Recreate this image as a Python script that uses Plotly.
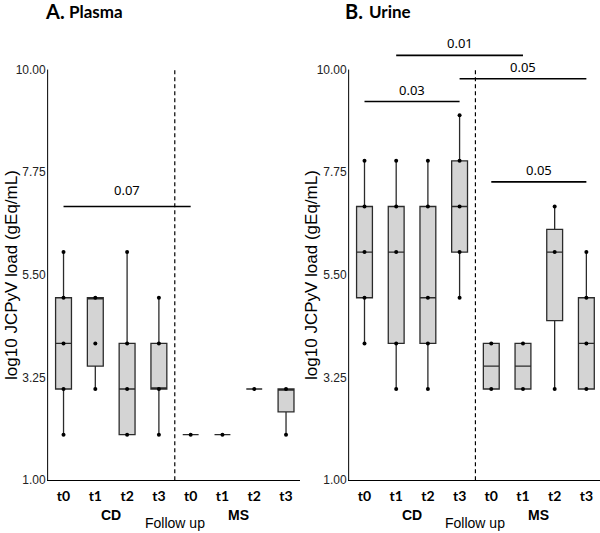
import plotly.graph_objects as go

# ---------------- data ----------------
x_labels = ["t0", "t1", "t2", "t3", "t0", "t1", "t2", "t3"]
x_pos = [0, 1, 2, 3, 4, 5, 6, 7]

# Plasma (panel A): min, q1, median, q3, max
plasma_min = [2, 3, 2, 2, 2, 2, 3, 2]
plasma_q1 = [3, 3.5, 2, 3, 2, 2, 3, 2.5]
plasma_med = [4, 5, 3, 3, 2, 2, 3, 3]
plasma_q3 = [5, 5, 4, 4, 2, 2, 3, 3]
plasma_max = [6, 5, 6, 5, 2, 2, 3, 3]
plasma_points = [[2, 3, 4, 5, 6], [3, 4, 5], [2, 3, 4, 6], [2, 3, 4, 5],
                 [2], [2], [3], [2, 3]]

# Urine (panel B)
urine_min = [4, 3, 3, 5, 3, 3, 3, 3]
urine_q1 = [5, 4, 4, 6, 3, 3, 4.5, 3]
urine_med = [6, 6, 5, 7, 3.5, 3.5, 6, 4]
urine_q3 = [7, 7, 7, 8, 4, 4, 6.5, 5]
urine_max = [8, 8, 8, 9, 4, 4, 7, 6]
urine_points = [[4, 5, 6, 7, 8], [3, 4, 6, 7, 8], [3, 4, 5, 7, 8], [5, 6, 7, 8, 9],
                [3, 4], [3, 4], [3, 6, 7], [3, 4, 5, 6]]

# significance bars: (x start, x end, y level, label)
plasma_sig = [(0, 4, 7.0, "0.07")]
urine_sig = [(1, 5, 10.31, "0.01"), (3, 7, 9.80, "0.05"),
             (0, 3, 9.30, "0.03"), (4, 7, 7.54, "0.05")]

y_ticks = [1, 3.25, 5.5, 7.75, 10]
y_top = 10.66
x_range = [-0.53, 7.43]

# ---------------- figure ----------------
fig = go.Figure()
BOX_FILL = "#d4d4d4"
BOX_LINE = "#2b2b2b"

panels = [
    ("x", "y", plasma_min, plasma_q1, plasma_med, plasma_q3, plasma_max, plasma_points),
    ("x2", "y2", urine_min, urine_q1, urine_med, urine_q3, urine_max, urine_points),
]
for xa, ya, mn, q1, md, q3, mx, pts in panels:
    fig.add_trace(go.Box(
        x=x_pos, q1=q1, median=md, q3=q3, lowerfence=mn, upperfence=mx,
        xaxis=xa, yaxis=ya, width=0.5, whiskerwidth=0,
        fillcolor=BOX_FILL, line=dict(color=BOX_LINE, width=1.3),
        boxpoints=False, showlegend=False, hoverinfo="skip"))
    px, py = [], []
    for xi, plist in zip(x_pos, pts):
        for v in plist:
            px.append(xi)
            py.append(v)
    fig.add_trace(go.Scatter(
        x=px, y=py, mode="markers", xaxis=xa, yaxis=ya,
        marker=dict(color="black", size=4), showlegend=False, hoverinfo="skip"))

axis_common_x = dict(range=x_range, tickmode="array", tickvals=x_pos, ticktext=x_labels,
                     showline=True, linecolor="black", linewidth=1, ticks="",
                     showgrid=False, zeroline=False, ticklabelstandoff=3,
                     tickfont=dict(family="Lato", size=14, color="black", weight="bold"))
axis_common_y = dict(range=[1, y_top], tickmode="array", tickvals=y_ticks,
                     ticktext=["%.2f" % v for v in y_ticks], showline=False, ticks="",
                     showgrid=False, zeroline=False,
                     tickfont=dict(family="Liberation Sans", size=12, color="#222"))

fig.update_layout(
    width=600, height=533,
    margin=dict(l=0, r=0, t=0, b=0),
    paper_bgcolor="white", plot_bgcolor="white",
    xaxis=dict(domain=[0.0778, 0.4995], anchor="y", **axis_common_x),
    yaxis=dict(domain=[0.0869, 0.925], anchor="x", **axis_common_y),
    xaxis2=dict(domain=[0.5795, 1.0], anchor="y2", **axis_common_x),
    yaxis2=dict(domain=[0.0869, 0.925], anchor="x2", **axis_common_y),
)

shapes = []
annotations = []
for xr, yr, sig, xpaper_title, xpaper_letter, letter, name, namex in [
    ("x", "y", plasma_sig, 0.020, 0.092, "A.", "Plasma", 0.16),
    ("x2", "y2", urine_sig, 0.520, 0.590, "B.", "Urine", 0.65),
]:
    # y-axis spine (from 1 to 10)
    shapes.append(dict(type="line", xref=xr, yref=yr, x0=-0.5, x1=-0.5, y0=1, y1=10,
                       line=dict(color="black", width=1)))
    # dashed separator between CD and MS
    shapes.append(dict(type="line", xref=xr, yref=yr, x0=3.5, x1=3.5, y0=1, y1=10,
                       line=dict(color="black", width=1.2, dash="4px,3px")))
    for x0, x1, yv, lab in sig:
        shapes.append(dict(type="line", xref=xr, yref=yr, x0=x0, x1=x1, y0=yv, y1=yv,
                           line=dict(color="black", width=1.6)))
        annotations.append(dict(xref=xr, yref=yr, x=(x0 + x1) / 2, y=yv, text=lab,
                                showarrow=False, yanchor="bottom",
                                yshift=5 if xr == "x" else 1,
                                font=dict(family="Noto Sans", size=13, color="black")))
    # y-axis title
    annotations.append(dict(xref="paper", yref=yr, x=xpaper_title, y=5.5,
                            text="log10 JCPyV load (gEq/mL)", textangle=-90,
                            showarrow=False, xanchor="center", yanchor="middle",
                            font=dict(family="Liberation Sans", size=17, color="black")))
    # group labels
    annotations.append(dict(xref=xr, yref="paper", x=1.5, y=1 - 522 / 533, text="<b>CD</b>",
                            showarrow=False, yanchor="middle",
                            font=dict(family="Liberation Sans", size=14, color="black")))
    annotations.append(dict(xref=xr, yref="paper", x=5.5, y=1 - 522 / 533, text="<b>MS</b>",
                            showarrow=False, yanchor="middle",
                            font=dict(family="Liberation Sans", size=14, color="black")))
    annotations.append(dict(xref=xr, yref="paper", x=3.5, y=1 - 530 / 533, text="Follow up",
                            showarrow=False, yanchor="middle",
                            font=dict(family="Liberation Sans", size=14, color="black")))
    # panel titles
    annotations.append(dict(xref="paper", yref="paper", x=xpaper_letter, y=1 - 11 / 533,
                            text="<b>" + letter + "</b>", showarrow=False,
                            xanchor="center", yanchor="middle",
                            font=dict(family="Lato", size=20, color="black")))
    annotations.append(dict(xref="paper", yref="paper", x=namex, y=1 - 12 / 533,
                            text="<b>" + name + "</b>", showarrow=False,
                            xanchor="center", yanchor="middle",
                            font=dict(family="Lato", size=17, color="black")))

fig.update_layout(shapes=shapes, annotations=annotations)
fig.write_html(
    "out.html",
    config={"displayModeBar": False},
    post_script="document.body.style.margin='0px';document.body.style.overflow='hidden';",
)
